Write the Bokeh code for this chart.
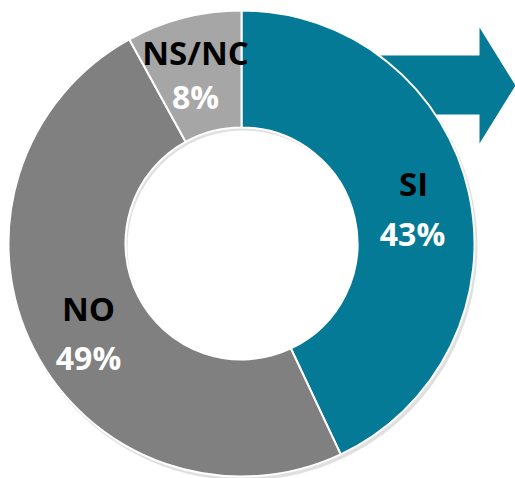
import math
from bokeh.plotting import figure
from bokeh.models import Range1d, ColumnDataSource
from bokeh.core.properties import value
from bokeh.embed import file_html
from bokeh.resources import INLINE

labels = ["SI", "NO", "NS/NC"]
percents = [43, 49, 8]
pct_text = ["43%", "49%", "8%"]
colors = ["#047A96", "#808080", "#A6A6A6"]

W, H = 515, 478
cx, cy = 241, H - 243
r_out, r_in = 233, 116

total = sum(percents)
starts, ends = [], []
a = math.pi / 2
for v in percents:
    starts.append(a)
    a -= v / total * 2 * math.pi
    ends.append(a)

p = figure(width=W, height=H, output_backend="svg", toolbar_location=None,
           x_range=Range1d(0, W), y_range=Range1d(0, H),
           min_border=0)
p.axis.visible = False
p.grid.visible = False
p.outline_line_color = None
p.background_fill_color = "white"

# arrow behind the donut
ax = [360, 479, 479, 515, 479, 479, 360]
ay = [55, 55, 27, 85, 143, 114, 114]
p.patch(ax, [H - y for y in ay], fill_color="#047A96", line_color=None)

# soft shadow
p.annular_wedge(x=cx + 2, y=cy - 3, inner_radius=r_in, outer_radius=r_out + 1,
                start_angle=0, end_angle=2 * math.pi,
                fill_color="#000000", fill_alpha=0.12, line_color=None)

src = ColumnDataSource(dict(start=starts, end=ends, color=colors))
p.annular_wedge(x=cx, y=cy, inner_radius=r_in, outer_radius=r_out,
                start_angle="start", end_angle="end", direction="clock",
                fill_color="color", line_color="white", line_width=2, source=src)

lx = [413, 88, 195]
ly = [183, 308, 52]
px_ = [412, 88, 195]
py_ = [233, 357, 96]

p.text(x=lx, y=[H - y for y in ly], text=labels, text_align="center",
       text_baseline="middle", text_font=value("Open Sans"),
       text_font_style="bold", text_font_size="33px", text_color="black")
p.text(x=px_, y=[H - y for y in py_], text=pct_text, text_align="center",
       text_baseline="middle", text_font=value("Open Sans"),
       text_font_style="bold", text_font_size="32px", text_color="white")

open("out.html", "w").write(file_html(p, INLINE))
